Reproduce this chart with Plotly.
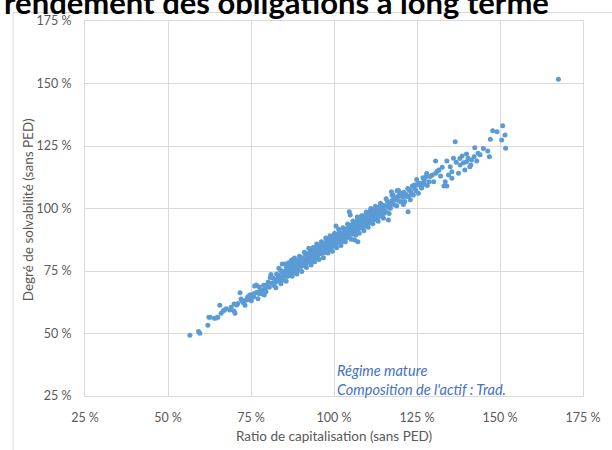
import plotly.graph_objects as go

# Simulated outcomes: capitalisation ratio (x, %) vs solvency degree (y, %)
# Sparse lower tail
tail_low = [
    (56.6, 49.3), (59.2, 50.8), (59.6, 50.1), (62.0, 53.3), (62.3, 56.5), (62.7, 56.5), (64.0, 56.1), (64.5, 56.2),
    (65.0, 56.5), (65.6, 61.3), (66.0, 58.1), (66.6, 59.0), (67.0, 59.4), (67.5, 59.9), (68.6, 59.4), (69.0, 60.5),
    (69.9, 59.0), (70.2, 58.1), (69.9, 61.8), (70.7, 61.4), (71.7, 66.3), (72.0, 63.8), (72.7, 62.3), (73.2, 61.3),
    (73.6, 63.4), (74.1, 64.7), (74.6, 65.3), (75.1, 63.1), (75.6, 65.0), (76.1, 69.0), (76.6, 69.4), (77.5, 68.6),
    (78.1, 65.9), (77.1, 63.9), (79.0, 65.4), (79.5, 66.7), (80.0, 68.7), (71.0, 62.0), (73.0, 63.0), (74.8, 64.0),
    (72.3, 63.0), (73.8, 64.0), (75.0, 65.5), (76.0, 66.0), (76.8, 66.5), (77.9, 67.4), (78.5, 67.2), (79.2, 68.0),
    (78.8, 69.3), (77.4, 66.0), (75.8, 64.6), (74.4, 63.6), (79.8, 69.5),
]

# Dense core
core = [
    (80.2, 70.6), (80.5, 68.5), (80.8, 72.4), (81.3, 70.1), (81.6, 72.2), (81.9, 69.2), (82.1, 71.7), (82.4, 70.5),
    (82.7, 73.8), (82.9, 71.7), (83.2, 73.3), (83.5, 70.9), (83.7, 72.9), (83.9, 75.3), (84.1, 72.4), (84.3, 74.7),
    (84.6, 71.3), (84.8, 74.3), (84.4, 77.8), (85.2, 77.8), (85.1, 72.9), (85.3, 75.0), (85.5, 74.2), (85.7, 76.4),
    (85.9, 72.8), (86.0, 75.2), (86.2, 73.7), (86.4, 76.6), (86.6, 74.8), (86.8, 77.9), (86.9, 73.2), (87.1, 75.9),
    (87.2, 79.4), (87.3, 74.3), (87.5, 77.1), (87.7, 75.6), (87.9, 78.1), (88.0, 74.5), (88.2, 77.3), (88.4, 76.6),
    (88.5, 79.2), (88.7, 75.9), (88.9, 78.5), (89.0, 76.5), (89.2, 77.9), (89.3, 75.2), (89.5, 79.4), (89.7, 77.6),
    (89.9, 79.0), (90.1, 76.8), (90.2, 80.4), (90.4, 78.6), (90.5, 77.7), (90.7, 80.0), (90.9, 77.2), (91.0, 79.6),
    (91.2, 78.7), (91.3, 81.9), (91.5, 77.4), (91.6, 79.8), (91.8, 81.1), (91.9, 78.8), (92.0, 80.7), (92.2, 78.5),
    (92.3, 82.0), (92.5, 80.1), (92.6, 80.9), (92.8, 79.4), (92.9, 82.9), (93.0, 80.2), (93.2, 82.0), (93.3, 78.7),
    (93.5, 81.4), (93.6, 82.9), (93.8, 80.5), (93.9, 82.2), (94.0, 80.3), (94.1, 84.1), (94.3, 81.8), (94.4, 83.0),
    (94.6, 80.3), (94.7, 82.6), (94.9, 81.7), (95.0, 84.0), (95.1, 80.6), (95.3, 83.0), (95.4, 82.4), (95.6, 85.0),
    (95.7, 82.0), (95.9, 84.2), (96.0, 83.1), (96.1, 84.7), (96.3, 82.1), (96.4, 84.3), (96.6, 83.0), (96.7, 86.2),
    (96.9, 84.2), (97.0, 82.3), (97.1, 85.1), (97.3, 84.2), (97.4, 86.2), (97.6, 83.5), (97.7, 85.2), (97.9, 82.6),
    (98.0, 86.2), (98.1, 84.6), (98.3, 87.5), (98.4, 85.4), (98.6, 84.2), (98.7, 86.6), (98.9, 85.4), (99.0, 87.7),
    (99.1, 84.3), (99.3, 86.7), (99.4, 85.4), (99.6, 87.8), (99.7, 86.3), (99.9, 89.2), (100.0, 85.6), (100.1, 87.6),
    (100.3, 85.0), (100.4, 88.5), (100.6, 93.0), (100.6, 86.9), (100.7, 87.6), (100.9, 89.5), (101.0, 86.9), (101.2, 88.8),
    (101.3, 86.3), (101.5, 88.4), (101.6, 90.3), (101.8, 87.8), (101.9, 89.2), (102.0, 87.2), (102.2, 90.2), (102.3, 88.6),
    (102.5, 89.6), (102.6, 86.8), (102.8, 90.4), (102.9, 88.9), (103.0, 91.7), (103.2, 88.6), (103.3, 90.0), (103.5, 88.0),
    (103.6, 91.0), (103.8, 90.0), (103.9, 91.9), (104.0, 89.6), (104.2, 91.3), (104.3, 88.5), (104.5, 90.9), (104.6, 98.7),
    (104.9, 97.4), (104.7, 93.3), (104.8, 89.8), (105.0, 91.6), (105.1, 89.7), (105.3, 92.7), (105.5, 91.3), (105.6, 93.6),
    (105.8, 90.9), (105.9, 92.6), (106.0, 90.3), (106.2, 87.4), (106.2, 93.3), (106.4, 91.8), (106.6, 94.7), (106.8, 91.5),
    (106.9, 93.2), (107.1, 90.7), (107.2, 86.7), (107.3, 94.7), (107.5, 93.1), (107.7, 94.3), (107.9, 92.2), (108.0, 95.6),
    (108.2, 93.3), (108.4, 94.4), (108.6, 92.3), (108.8, 95.8), (108.9, 94.2), (109.1, 97.1), (109.3, 93.8), (109.5, 95.6),
    (109.6, 93.0), (109.8, 96.5), (110.0, 94.9), (110.2, 97.3), (110.4, 94.4), (110.6, 96.3), (110.9, 99.1), (110.8, 95.3),
    (111.0, 98.5), (111.2, 94.9), (111.4, 97.5), (111.6, 96.6), (111.8, 98.5), (112.0, 96.0), (112.2, 97.7), (112.4, 99.8),
    (112.6, 95.7), (112.8, 98.7), (113.0, 97.4), (113.2, 99.5), (113.5, 97.0), (113.7, 98.7), (113.9, 100.8), (114.1, 98.0),
    (114.3, 100.1), (114.6, 97.1), (114.8, 101.2), (115.0, 99.4), (115.3, 101.1), (115.6, 98.6), (115.9, 101.0), (116.4, 100.7),
    (116.4, 95.4), (116.1, 102.8), (116.5, 100.2), (116.8, 102.1), (117.0, 100.1), (117.3, 106.7), (117.8, 105.4), (117.4, 103.1),
    (117.7, 101.8), (118.0, 104.3),
    (95.2, 84.5), (95.8, 82.0), (96.5, 85.5), (97.2, 83.0), (97.8, 86.9), (98.5, 84.0), (99.2, 87.9), (99.8, 85.0),
    (100.5, 88.9), (101.1, 86.2), (101.7, 89.9), (102.4, 87.0), (103.1, 90.6), (103.7, 88.6), (104.4, 92.3), (105.4, 89.8),
    (106.1, 93.9), (106.7, 90.6), (107.4, 95.4), (108.1, 92.5), (108.7, 96.2), (109.4, 93.5), (110.1, 97.6), (110.7, 94.3),
    (111.5, 98.9), (112.1, 95.6), (112.9, 99.9), (113.6, 96.8), (114.4, 101.4), (115.1, 98.1),
]

# Edges of the core band
core_edges = [
    (81.0, 73.6), (82.5, 68.3), (83.4, 76.1), (84.0, 69.9), (85.6, 70.9), (86.3, 78.3), (87.4, 72.9), (88.1, 80.2),
    (88.8, 73.8), (89.6, 80.9), (90.3, 74.8), (91.1, 82.5), (91.7, 76.4), (92.4, 84.1), (93.1, 77.4), (93.7, 84.4),
    (94.2, 78.7), (94.8, 85.8), (95.5, 79.6), (96.2, 86.7), (96.8, 80.3), (97.5, 88.2), (98.2, 82.2), (98.8, 89.1),
    (99.5, 82.9), (100.2, 90.1), (100.8, 84.3), (101.4, 91.7), (102.1, 85.2), (102.7, 92.3), (103.4, 86.7), (104.1, 93.8),
    (105.2, 87.7), (105.7, 95.0), (106.5, 89.3), (107.0, 96.6), (107.6, 90.1), (108.3, 97.1), (109.0, 91.1), (109.7, 98.6),
    (110.3, 92.5), (111.1, 100.0), (111.7, 93.9), (112.5, 100.9), (113.3, 94.9), (114.0, 102.1), (114.9, 96.1), (115.7, 103.9),
    (116.6, 98.0), (117.5, 105.3), (119.4, 107.2), (120.9, 101.6), (123.0, 103.5), (124.9, 111.6), (127.9, 114.0),
]

# Upper band, thinning out
upper = [
    (118.3, 101.4), (118.6, 103.5), (118.9, 101.1), (119.0, 107.1), (119.2, 104.8), (119.5, 103.1), (119.8, 106.1), (120.1, 102.7),
    (120.4, 105.2), (120.8, 106.1), (120.7, 104.5), (121.0, 106.5), (121.3, 102.8), (121.6, 105.8), (121.9, 104.8), (122.3, 98.7),
    (122.2, 108.0), (122.5, 104.9), (122.7, 107.4), (122.9, 107.3), (123.2, 106.4), (123.6, 109.0), (123.9, 105.4), (124.2, 109.4),
    (124.3, 108.0), (124.7, 107.1), (125.0, 109.6), (125.4, 106.1), (125.7, 110.1), (125.9, 109.6), (126.2, 108.7), (126.4, 108.2),
    (126.8, 112.3), (127.2, 109.7), (127.7, 112.7), (128.1, 109.2), (128.6, 110.7), (129.0, 112.8), (129.6, 113.4), (130.0, 110.7),
    (130.6, 114.1), (130.6, 119.0), (131.1, 114.9), (131.6, 115.4), (132.1, 113.0), (132.6, 116.5), (133.1, 109.0), (133.5, 110.7),
    (134.0, 109.0), (134.0, 119.0), (134.5, 113.4), (135.0, 116.7), (135.5, 114.7), (135.5, 112.1), (127.2, 111.4), (126.2, 110.1),
]

# Sparse upper tail and isolated extreme
tail_high = [
    (136.5, 126.7), (136.0, 120.1), (139.9, 121.8), (142.4, 124.3), (143.4, 122.1), (142.2, 120.7), (146.3, 123.0), (146.8, 120.7),
    (147.1, 127.7), (147.8, 131.1), (149.1, 130.7), (150.8, 133.1), (151.5, 129.4), (150.5, 127.4), (151.7, 124.1), (139.9, 118.7),
    (140.9, 116.7), (139.4, 115.4), (137.5, 114.1), (138.0, 117.4), (139.0, 118.3), (140.4, 120.1), (141.4, 119.4), (141.2, 117.4),
    (136.8, 118.5), (137.9, 120.0), (138.6, 121.0), (144.0, 121.5), (145.0, 124.0), (143.0, 119.0), (167.6, 151.7),
]

points = tail_low + core + core_edges + upper + tail_high
ratio = [p[0] for p in points]
solvency = [p[1] for p in points]

tick_vals = [25, 50, 75, 100, 125, 150, 175]
tick_text = ["25 %", "50 %", "75 %", "100 %", "125 %", "150 %", "175 %"]

title_text = "rendement des obligations à long terme"
x_title = "Ratio de capitalisation (sans PED)"
y_title = "Degré de solvabilité (sans PED)"
note_lines = ["Régime mature", "Composition de l'actif : Trad."]

W, H = 612, 450
ML, MR, MT, MB = 85, 18, 21, 54
FONT = "Lato, 'Open Sans', sans-serif"
GREY = "#595959"
GRID = "#D9D9D9"


def fx(p):
    return (p - ML) / (W - ML - MR)


def fy(p):
    return (H - MB - p) / (H - MT - MB)


fig = go.Figure(
    go.Scatter(
        x=ratio, y=solvency, mode="markers",
        marker=dict(size=5, color="#5B9BD5", line=dict(width=0)),
        hoverinfo="x+y",
    )
)

axis_common = dict(
    tickvals=tick_vals, ticktext=tick_text, range=[25, 175],
    showgrid=True, gridcolor=GRID, gridwidth=1,
    showline=True, mirror=True, linecolor=GRID, linewidth=1,
    zeroline=False, ticks="", tickfont=dict(family=FONT, size=12.5, color=GREY),
)

fig.update_layout(
    width=W, height=H,
    margin=dict(l=ML, r=MR, t=MT, b=MB, pad=0),
    paper_bgcolor="white", plot_bgcolor="white",
    showlegend=False,
    xaxis=dict(axis_common, ticklabelstandoff=10),
    yaxis=dict(axis_common, ticklabelstandoff=10),
    shapes=[
        dict(type="rect", xref="paper", yref="paper",
             x0=fx(11.5), x1=fx(640), y0=fy(480), y1=fy(12.5),
             line=dict(color=GRID, width=1), fillcolor="rgba(0,0,0,0)", layer="below"),
    ],
    annotations=[
        dict(text="<b>" + title_text + "</b>", xref="paper", yref="paper",
             x=fx(0), y=fy(23), xanchor="left", yanchor="bottom", showarrow=False,
             font=dict(family=FONT, size=31, color="black")),
        dict(text=x_title, xref="paper", yref="paper", x=fx(340), y=fy(436),
             xanchor="center", yanchor="middle", showarrow=False,
             font=dict(family=FONT, size=13.5, color=GREY)),
        dict(text=y_title, xref="paper", yref="paper", x=fx(27), y=fy(210),
             xanchor="center", yanchor="middle", textangle=-90, showarrow=False,
             font=dict(family=FONT, size=13.5, color=GREY)),
        dict(text="<i>" + note_lines[0] + "<br>" + note_lines[1] + "</i>", xref="paper", yref="paper",
             x=fx(341), y=fy(380), xanchor="left", yanchor="middle", align="left", showarrow=False,
             font=dict(family=FONT, size=14.5, color="#4472C4")),
    ],
)

fig.write_html("out.html")
